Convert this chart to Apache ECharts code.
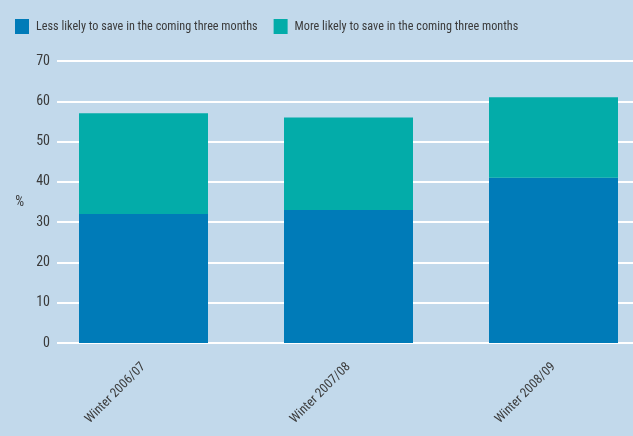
<!DOCTYPE html>
<html>
<head>
<meta charset="utf-8">
<script src="https://cdn.jsdelivr.net/npm/echarts@6/dist/echarts.min.js"></script>
<style>
  html, body { margin: 0; padding: 0; background: #c2d9eb; }
  #chart { width: 633px; height: 436px; }
</style>
</head>
<body>
<div id="chart"></div>
<script>
// Survey responses by winter period (%)
const categories = ['Winter 2006/07', 'Winter 2007/08', 'Winter 2008/09'];
const lessLikely = [32, 33, 41];
const moreLikely = [25, 23, 20];
const seriesNames = ['Less likely to save in the coming three months', 'More likely to save in the coming three months'];
const yTicks = [0, 10, 20, 30, 40, 50, 60, 70];

const FONT = '"Roboto Condensed", "Liberation Sans", sans-serif';
const TEXT = '#3a3a3a';

const chart = echarts.init(document.getElementById('chart'), null, { renderer: 'canvas' });

chart.setOption({
  backgroundColor: '#c2d9eb',
  animation: false,
  textStyle: { fontFamily: FONT },
  legend: {
    left: 10,
    top: 14,
    itemWidth: 14,
    itemHeight: 15,
    itemGap: 16,
    icon: 'rect',
    textStyle: { color: TEXT, fontSize: 12.2, fontFamily: FONT, padding: [0, 0, 0, 2] },
    data: seriesNames
  },
  grid: [
    // bars: three bands of 205px starting at x=41
    { left: 41, width: 615, top: 61, bottom: 93, outerBoundsMode: 'none', containLabel: false },
    // value scale with gridlines
    { left: 57, width: 590, top: 61, bottom: 93, outerBoundsMode: 'none', containLabel: false }
  ],
  xAxis: [
    {
      type: 'category',
      gridIndex: 0,
      data: categories,
      axisLine: { show: false },
      axisTick: { show: false },
      axisLabel: {
        rotate: 45,
        margin: 22,
        color: TEXT,
        fontSize: 13,
        fontFamily: FONT
      }
    },
    {
      type: 'value',
      gridIndex: 1,
      show: false
    }
  ],
  yAxis: [
    {
      type: 'value',
      gridIndex: 0,
      min: 0,
      max: 70,
      interval: 10,
      show: false,
      splitLine: { show: false }
    },
    {
      type: 'value',
      gridIndex: 1,
      min: yTicks[0],
      max: yTicks[yTicks.length - 1],
      interval: 10,
      name: '%',
      nameLocation: 'middle',
      nameRotate: 0,
      nameGap: 33,
      nameTextStyle: { color: TEXT, fontSize: 14, fontFamily: FONT },
      axisLine: { show: false },
      axisTick: { show: false },
      axisLabel: { color: TEXT, fontSize: 14, margin: 7, fontFamily: FONT },
      splitLine: { show: true, lineStyle: { color: '#ffffff', width: 2 } }
    }
  ],
  series: [
    {
      name: seriesNames[0],
      type: 'bar',
      stack: 'total',
      xAxisIndex: 0,
      yAxisIndex: 0,
      barWidth: 129,
      itemStyle: { color: '#007bb8' },
      data: lessLikely,
      z: 3
    },
    {
      name: seriesNames[1],
      type: 'bar',
      stack: 'total',
      xAxisIndex: 0,
      yAxisIndex: 0,
      barWidth: 129,
      itemStyle: { color: '#03aca9' },
      data: moreLikely,
      z: 3
    }
  ]
});
</script>
</body>
</html>
